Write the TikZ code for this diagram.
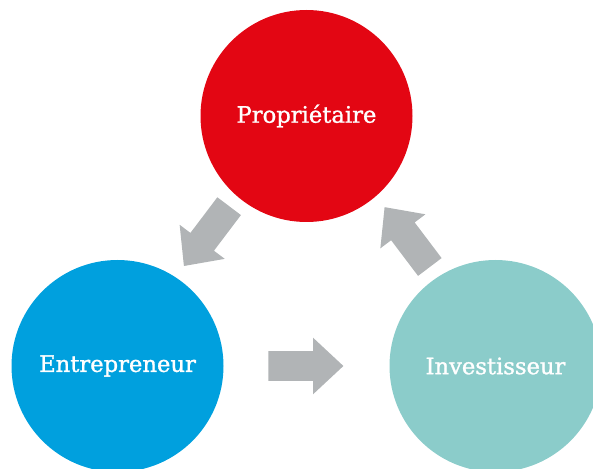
\documentclass[tikz,border=0pt]{standalone}
\usepackage{fontspec}
\setmainfont{DejaVu Serif}
\newfontfamily\etiq[BoldFont={DejaVu Serif}, BoldFeatures={FakeBold=1.2}]{DejaVu Serif}
\usetikzlibrary{shapes.arrows}
\definecolor{rougeP}{RGB}{227,6,19}
\definecolor{bleuE}{RGB}{0,160,222}
\definecolor{vertI}{RGB}{139,204,202}
\definecolor{grisF}{RGB}{177,180,182}
\begin{document}
\begin{tikzpicture}[x=0.75pt, y=0.75pt,
	rond/.style={circle, inner sep=0pt, minimum size=159pt, draw=none, text=white, font=\etiq\bfseries\fontsize{17}{20}\selectfont},
	fleche/.style={single arrow, fill=grisF, draw=none, inner xsep=0pt, inner ysep=10.875pt, minimum height=56.25pt, single arrow head extend=10.125pt, single arrow tip angle=86, sloped, allow upside down, xshift=-6.4pt}]
	\useasboundingbox (0,0) rectangle (593,468);
	\clip (0,0) rectangle (593,468);

	\draw (306.5,352) node (prop) [rond, fill=rougeP] {Propriétaire};
	\draw (117.5,102) node (entr) [rond, fill=bleuE] {Entrepreneur};
	\draw (495.5,102) node (inv) [rond, fill=vertI] {Investisseur};

	\path (prop) -- node (f1) [fleche, yshift=-5.5pt] {} (entr);
	\path (entr) -- node (f2) [fleche] {} (inv);
	\path (inv) -- node (f3) [fleche, yshift=-5.5pt] {} (prop);

\end{tikzpicture}
\end{document}
